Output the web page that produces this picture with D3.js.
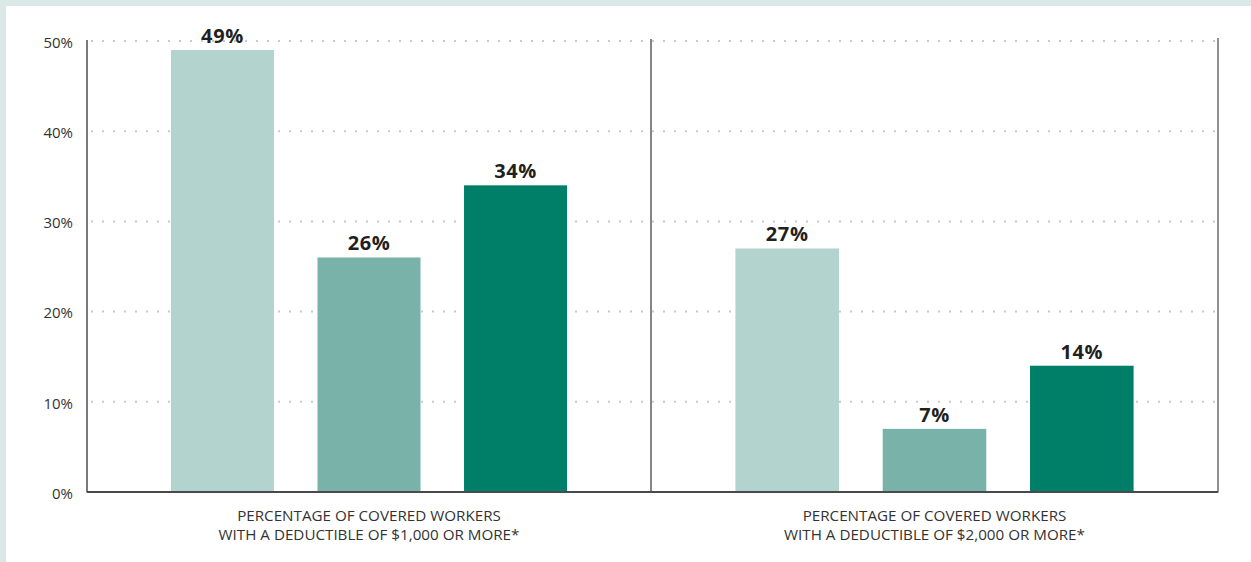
<!DOCTYPE html>
<html>
<head>
<meta charset="utf-8">
<script src="https://cdn.jsdelivr.net/npm/d3@7"></script>
<style>
  html, body { margin: 0; padding: 0; background: #ffffff; }
  svg { display: block; }
  text { font-family: "Open Sans", "Noto Sans", sans-serif; }
</style>
</head>
<body>
<svg id="chart" width="1251" height="562"></svg>
<script>
// Deductible thresholds shown as two panels
const panels = ["$1,000", "$2,000"];
const panelLines = [
  ["PERCENTAGE OF COVERED WORKERS", "WITH A DEDUCTIBLE OF $1,000 OR MORE*"],
  ["PERCENTAGE OF COVERED WORKERS", "WITH A DEDUCTIBLE OF $2,000 OR MORE*"]
];
// Three firm groups within each panel
const groups = ["A", "B", "C"];
const valuesThousand = [49, 26, 34];
const valuesTwoThousand = [27, 7, 14];
const yTicks = [0, 10, 20, 30, 40, 50];
const colors = ["#b3d3ce", "#78b2a8", "#007f68"];

const panelValues = [valuesThousand, valuesTwoThousand];

const svg = d3.select("#chart");

// light mint frame on the top and left edges
svg.append("rect").attr("x", 0).attr("y", 0).attr("width", 1251).attr("height", 562).attr("fill", "#d9e9e5");
svg.append("rect").attr("x", 6).attr("y", 6).attr("width", 1245).attr("height", 556).attr("fill", "#ffffff");

const left = 87, right = 1218, mid = 651;
const y = d3.scaleLinear().domain([0, 50]).range([492, 41]);

const px = d3.scaleOrdinal().domain(panels).range([[left, mid], [mid, right]]);

// dotted gridlines
const grid = svg.append("g");
grid.selectAll("line").data(yTicks.filter(t => t > 0)).join("line")
  .attr("x1", left + 4).attr("x2", right - 2)
  .attr("y1", d => y(d)).attr("y2", d => y(d))
  .attr("stroke", "#c9c9c9").attr("stroke-width", 2)
  .attr("stroke-dasharray", "2,9");

// y axis labels
const yAxis = d3.axisLeft(y).tickValues(yTicks).tickFormat(d => d + "%").tickSize(0).tickPadding(14);
const ya = svg.append("g").attr("transform", `translate(${left},0)`).call(yAxis);
ya.select(".domain").remove();
ya.selectAll("text").attr("font-size", 15).attr("fill", "#333333").attr("dy", "0.42em")
  .attr("font-family", "'Open Sans', sans-serif");

panels.forEach((p, pi) => {
  const [x0, x1] = px(p);
  const x = d3.scaleBand().domain(groups).range([x0, x1]).paddingInner(0.297).paddingOuter(0.573).align(0.5);
  const vals = panelValues[pi];
  const g = svg.append("g");
  g.selectAll("rect").data(groups).join("rect")
    .attr("x", d => x(d))
    .attr("width", x.bandwidth())
    .attr("y", (d, i) => y(vals[i]))
    .attr("height", (d, i) => y(0) - y(vals[i]))
    .attr("fill", (d, i) => colors[i]);
  g.selectAll("text.val").data(groups).join("text").attr("class", "val")
    .attr("x", d => x(d) + x.bandwidth() / 2)
    .attr("y", (d, i) => y(vals[i]) - 7)
    .attr("text-anchor", "middle")
    .attr("font-size", 20).attr("font-weight", 700).attr("letter-spacing", 0.6).attr("fill", "#231f20")
    .text((d, i) => vals[i] + "%");
  const cx = (x0 + x1) / 2;
  const lab = svg.append("text").attr("text-anchor", "middle").attr("font-size", 15.2).attr("fill", "#333333");
  panelLines[pi].forEach((t, li) => {
    lab.append("tspan").attr("x", cx).attr("y", 521 + li * 18.6).text(t);
  });
});

// frame lines: left axis, panel divider, right edge, baseline
svg.append("line").attr("x1", left).attr("x2", left).attr("y1", 40).attr("y2", 492.5).attr("stroke", "#333333").attr("stroke-width", 1.3);
svg.append("line").attr("x1", mid).attr("x2", mid).attr("y1", 39).attr("y2", 492.5).attr("stroke", "#444444").attr("stroke-width", 1.3);
svg.append("line").attr("x1", right).attr("x2", right).attr("y1", 38).attr("y2", 492.5).attr("stroke", "#555555").attr("stroke-width", 1.3);
svg.append("line").attr("x1", left).attr("x2", right).attr("y1", y(0)).attr("y2", y(0)).attr("stroke", "#4a4a4a").attr("stroke-width", 2);
</script>
</body>
</html>
